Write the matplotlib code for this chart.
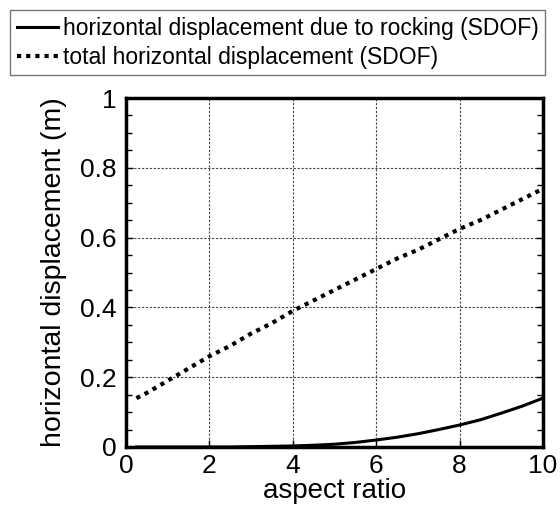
import numpy as np
import matplotlib
matplotlib.use("Agg")
import matplotlib.pyplot as plt
from matplotlib.ticker import MultipleLocator

plt.rcParams["font.family"] = ["Liberation Sans", "DejaVu Sans"]

# aspect ratio samples
aspect = [0.25, 0.5, 1.0, 1.5, 2.0, 2.5, 3.0, 3.5, 4.0, 4.5, 5.0,
          5.5, 6.0, 6.5, 7.0, 7.5, 8.0, 8.5, 9.0, 9.5, 10.0]
# horizontal displacement due to rocking (m)
rocking = [0.0, 0.0, 0.0, 0.0, 0.0, 0.0, 0.001, 0.002, 0.003, 0.005, 0.008,
           0.013, 0.02, 0.028, 0.038, 0.05, 0.063, 0.078, 0.097, 0.117, 0.14]
# total horizontal displacement (m)
total = [0.14, 0.155, 0.19, 0.225, 0.26, 0.29, 0.325, 0.355, 0.39, 0.42, 0.45,
         0.48, 0.51, 0.54, 0.565, 0.595, 0.625, 0.65, 0.68, 0.71, 0.74]

fig = plt.figure(figsize=(5.6, 5.09), dpi=100)
ax = fig.add_axes([126 / 560, 1 - 447 / 509, 417 / 560, 349 / 509])

l1, = ax.plot(aspect, rocking, color="black", lw=2.2)
l2, = ax.plot(aspect, total, color="black", lw=3.0, linestyle=(0, (1, 1.2)))

ax.set_xlim(0, 10)
ax.set_ylim(0, 1)
ax.xaxis.set_major_locator(MultipleLocator(2))
ax.yaxis.set_minor_locator(MultipleLocator(0.05))
ax.set_yticks([0, 0.2, 0.4, 0.6, 0.8, 1])
ax.set_yticklabels(["0", "0.2", "0.4", "0.6", "0.8", "1"])
ax.tick_params(which="both", direction="in", right=True, top=False, labelsize=19)
ax.tick_params(axis="y", pad=7)
ax.tick_params(axis="x", pad=5)
ax.tick_params(which="major", length=5, width=1)
ax.tick_params(which="minor", length=4, width=1)
ax.grid(True, which="major", color="#444444", linestyle=(0, (2, 1.5)), linewidth=0.8)
for s in ax.spines.values():
    s.set_linewidth(2.5)

ax.set_xlabel("aspect ratio", fontsize=20, labelpad=0)
ax.set_ylabel("horizontal displacement (m)", fontsize=20.5, labelpad=9)

fig.legend([l1, l2], ["horizontal displacement due to rocking (SDOF)",
                      "total horizontal displacement (SDOF)"],
           loc="upper left", bbox_to_anchor=(10 / 560, 1 - 10 / 509),
           fontsize=16.5, frameon=True, fancybox=False, edgecolor="#555555",
           handlelength=1.8, handletextpad=0.2, borderpad=0.3, labelspacing=0.25,
           borderaxespad=0)

plt.savefig("out.png", dpi=100)
